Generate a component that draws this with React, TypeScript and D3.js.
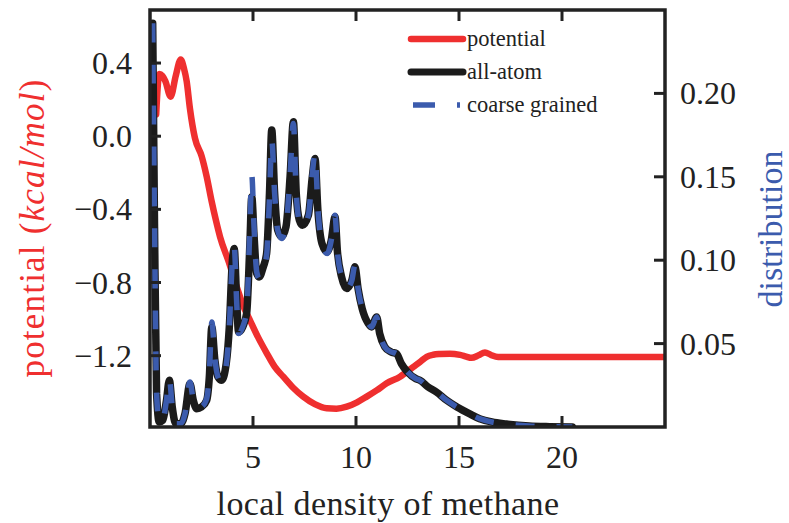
import React from "react";
import * as d3 from "d3";

// local density of methane (x) for the two distributions
const densityX = [
  0.13, 0.22, 0.32, 0.45, 0.62, 0.8, 0.94, 1.08, 1.25, 1.5, 1.7, 1.94, 2.1, 2.27, 2.5, 2.75, 2.88, 3.0,
  3.15, 3.3, 3.48, 3.7, 3.85, 4.0, 4.09, 4.2, 4.3, 4.5, 4.69, 4.85, 4.94, 5.05, 5.18, 5.3, 5.5, 5.66,
  5.8, 5.91, 6.05, 6.2, 6.39, 6.6, 6.8, 6.96, 7.1, 7.25, 7.4, 7.69, 7.88, 8.01, 8.15, 8.35, 8.6, 8.8,
  8.98, 9.1, 9.3, 9.55, 9.8, 9.95, 10.1, 10.3, 10.6, 10.76, 11.0, 11.15, 11.4, 11.7, 11.97, 12.2, 12.5,
  12.9, 13.1, 13.5, 13.9, 14.4, 14.9, 15.5, 16.0, 16.6, 17.3, 18.4, 19.4, 20.5,
];

const allAtom = [
  0.242, 0.12, 0.02, 0.003, 0.004, 0.016, 0.028, 0.012, 0.002, 0.002, 0.008, 0.026, 0.016, 0.011, 0.012,
  0.016, 0.03, 0.06, 0.04, 0.03, 0.028, 0.038, 0.06, 0.1, 0.107, 0.078, 0.057, 0.06, 0.068, 0.11, 0.138,
  0.115, 0.092, 0.09, 0.096, 0.104, 0.14, 0.178, 0.14, 0.118, 0.114, 0.12, 0.15, 0.183, 0.14, 0.124,
  0.121, 0.127, 0.15, 0.161, 0.13, 0.11, 0.105, 0.112, 0.126, 0.105, 0.09, 0.083, 0.088, 0.096, 0.083,
  0.071, 0.062, 0.06, 0.066, 0.056, 0.048, 0.045, 0.044, 0.038, 0.033, 0.029, 0.028, 0.024, 0.021,
  0.016, 0.012, 0.008, 0.005, 0.003, 0.0018, 0.0006, 0.0002, 0.0,
];

const coarseGrained = [
  0.242, 0.12, 0.02, 0.003, 0.004, 0.016, 0.029, 0.012, 0.002, 0.002, 0.008, 0.027, 0.016, 0.011, 0.012,
  0.017, 0.032, 0.063, 0.041, 0.03, 0.027, 0.037, 0.06, 0.1, 0.108, 0.077, 0.056, 0.06, 0.07, 0.12, 0.151,
  0.12, 0.093, 0.089, 0.095, 0.103, 0.137, 0.172, 0.14, 0.118, 0.113, 0.12, 0.151, 0.182, 0.14, 0.123,
  0.12, 0.127, 0.152, 0.164, 0.131, 0.11, 0.104, 0.112, 0.127, 0.105, 0.09, 0.083, 0.088, 0.097, 0.083,
  0.071, 0.062, 0.06, 0.066, 0.056, 0.048, 0.045, 0.044, 0.038, 0.033, 0.029, 0.028, 0.024, 0.021,
  0.016, 0.012, 0.008, 0.005, 0.003, 0.0018, 0.0006, 0.0002, 0.0,
];

// potential (kcal/mol) against local density
const potentialX = [
  0.3, 0.45, 0.6, 0.75, 1.0, 1.25, 1.49, 1.65, 1.78, 1.94, 2.18, 2.51, 2.75, 3.0, 3.2, 3.4, 3.8, 4.21,
  4.5, 4.85, 5.25, 5.67, 6.05, 6.47, 6.95, 7.44, 8.0, 8.58, 9.05, 9.55, 10.05, 10.52, 11.0, 11.49,
  12.14, 12.77, 13.1, 13.43, 13.75, 14.08, 14.56, 15.05, 15.35, 15.6, 15.95, 16.26, 16.55, 16.9, 17.5,
  19.0, 21.0, 23.0, 25.0,
];

const potential = [
  0.12, 0.34, 0.33, 0.3, 0.216, 0.33, 0.42, 0.37, 0.3, 0.15, -0.01, -0.11, -0.22, -0.36, -0.46, -0.55,
  -0.68, -0.823, -0.92, -1.005, -1.1, -1.187, -1.26, -1.315, -1.375, -1.424, -1.465, -1.488, -1.49,
  -1.479, -1.455, -1.424, -1.39, -1.351, -1.315, -1.262, -1.235, -1.206, -1.195, -1.191, -1.189,
  -1.196, -1.205, -1.212, -1.198, -1.182, -1.196, -1.207, -1.207, -1.207, -1.207, -1.207, -1.207,
];

const xTicks = [5, 10, 15, 20];
const leftTicks = [0.4, 0.0, -0.4, -0.8, -1.2];
const rightTicks = [0.05, 0.1, 0.15, 0.2];

const legendItems = [
  { label: "potential", key: "pot" },
  { label: "all-atom", key: "aa" },
  { label: "coarse grained", key: "cg" },
];

const W = 789;
const H = 523;
const M = { left: 150, right: 665, top: 10, bottom: 427 };

const RED = "#ef2f2f";
const BLACK = "#1b1b1b";
const BLUE = "#3b5bad";
const TEXT = "#222";
const FONT = "'Liberation Serif', 'DejaVu Serif', serif";

const fmtLeft = (v: number) => (v < 0 ? "\u2212" : "") + Math.abs(v).toFixed(1);
const fmtRight = (v: number) => v.toFixed(2);

export default function App() {
  const x = d3.scaleLinear().domain([0, 25]).range([M.left, M.right]);
  const yL = d3.scaleLinear().domain([-1.59, 0.69]).range([M.bottom, M.top]);
  const yR = d3.scaleLinear().domain([0, 0.25]).range([M.bottom, M.top]);

  const distLine = d3
    .line<[number, number]>()
    .x((d) => x(d[0]))
    .y((d) => yR(d[1]))
    .curve(d3.curveMonotoneX);
  const potLine = d3
    .line<[number, number]>()
    .x((d) => x(d[0]))
    .y((d) => yL(d[1]))
    .curve(d3.curveMonotoneX);

  const aaPts = densityX.map((v, i) => [v, allAtom[i]] as [number, number]);
  const cgPts = densityX.map((v, i) => [v, coarseGrained[i]] as [number, number]);
  const potPts = potentialX.map((v, i) => [v, potential[i]] as [number, number]);

  const tickLen = 11;
  const legX0 = 411;
  const legX1 = 463;
  const legY = [39, 72, 105];

  return (
    <svg
      width={W}
      height={H}
      style={{ position: "absolute", left: 0, top: 0, background: "#fff" }}
      fontFamily={FONT}
    >
      <defs>
        <clipPath id="plotArea">
          <rect x={M.left} y={M.top} width={M.right - M.left} height={M.bottom - M.top} />
        </clipPath>
      </defs>

      <g clipPath="url(#plotArea)">
        <path d={potLine(potPts) ?? ""} fill="none" stroke={RED} strokeWidth={6.5} strokeLinejoin="round" strokeLinecap="round" />
        <path d={distLine(aaPts) ?? ""} fill="none" stroke={BLACK} strokeWidth={7.5} strokeLinejoin="round" strokeLinecap="round" />
        <path
          d={distLine(cgPts) ?? ""}
          fill="none"
          stroke={BLUE}
          strokeWidth={5.5}
          strokeDasharray="19 22"
          strokeLinejoin="round"
        />
      </g>

      {/* ticks, pointing inward */}
      <g stroke={TEXT} strokeWidth={3}>
        {xTicks.map((t) => (
          <g key={"xt" + t}>
            <line x1={x(t)} x2={x(t)} y1={M.bottom} y2={M.bottom - tickLen} />
            <line x1={x(t)} x2={x(t)} y1={M.top} y2={M.top + tickLen} />
          </g>
        ))}
        {leftTicks.map((t) => (
          <line key={"lt" + t} x1={M.left} x2={M.left + tickLen} y1={yL(t)} y2={yL(t)} />
        ))}
        {rightTicks.map((t) => (
          <line key={"rt" + t} x1={M.right} x2={M.right - tickLen} y1={yR(t)} y2={yR(t)} />
        ))}
      </g>

      {/* frame */}
      <rect
        x={M.left}
        y={M.top}
        width={M.right - M.left}
        height={M.bottom - M.top}
        fill="none"
        stroke={TEXT}
        strokeWidth={3.5}
      />

      {/* tick labels */}
      <g fill={TEXT} fontSize={32}>
        {xTicks.map((t) => (
          <text key={"xl" + t} x={x(t)} y={468} textAnchor="middle">
            {t}
          </text>
        ))}
        {leftTicks.map((t) => (
          <text key={"ll" + t} x={132} y={yL(t) + 11} textAnchor="end">
            {fmtLeft(t)}
          </text>
        ))}
        {rightTicks.map((t) => (
          <text key={"rl" + t} x={680} y={yR(t) + 11} textAnchor="start">
            {fmtRight(t)}
          </text>
        ))}
      </g>

      {/* axis titles */}
      <text x={388} y={515} textAnchor="middle" fontSize={34} letterSpacing={0.4} fill={TEXT}>
        local density of methane
      </text>
      <text
        transform="translate(44,228) rotate(-90)"
        textAnchor="middle"
        fontSize={35}
        letterSpacing={1.2}
        fill={RED}
      >
        potential (<tspan fontStyle="italic">kcal/mol</tspan>)
      </text>
      <text
        transform="translate(782,229) rotate(-90)"
        textAnchor="middle"
        fontSize={34}
        fill={BLUE}
      >
        distribution
      </text>

      {/* legend */}
      {legendItems.map((item, i) => (
        <g key={item.key}>
          {item.key === "pot" && (
            <line x1={legX0} x2={legX1} y1={legY[i]} y2={legY[i]} stroke={RED} strokeWidth={6.5} strokeLinecap="round" />
          )}
          {item.key === "aa" && (
            <line x1={legX0} x2={legX1} y1={legY[i]} y2={legY[i]} stroke={BLACK} strokeWidth={7} strokeLinecap="round" />
          )}
          {item.key === "cg" && (
            <line x1={legX0 + 2} x2={legX1 - 3} y1={legY[i]} y2={legY[i]} stroke={BLUE} strokeWidth={5.5} strokeDasharray="22 22" />
          )}
          <text x={467} y={legY[i] + 7} fontSize={22.5} fill={TEXT}>
            {item.label}
          </text>
        </g>
      ))}
    </svg>
  );
}
